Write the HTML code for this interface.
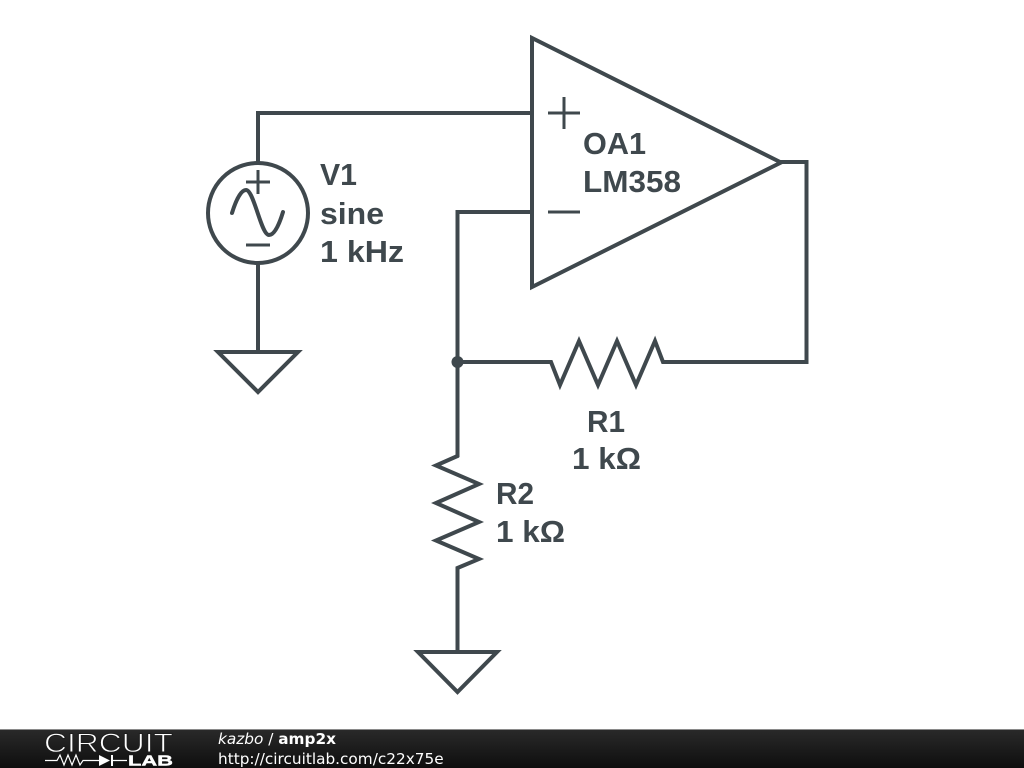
<!DOCTYPE html>
<html>
<head>
<meta charset="utf-8">
<style>
html,body{margin:0;padding:0;background:#fff;width:1024px;height:768px;overflow:hidden}
svg{display:block}
.l{font-family:"Liberation Sans",sans-serif;font-weight:bold;font-size:30.5px;fill:#3f484d}
.f{font-family:"DejaVu Sans",sans-serif;font-size:15.3px;fill:#fff}
</style>
</head>
<body>
<svg width="1024" height="768" viewBox="0 0 1024 768" xmlns="http://www.w3.org/2000/svg">
<defs>
<linearGradient id="g" x1="0" y1="0" x2="0" y2="1">
<stop offset="0" stop-color="#2a2a2a"/>
<stop offset="0.5" stop-color="#1c1c1c"/>
<stop offset="1" stop-color="#0e0e0e"/>
</linearGradient>
</defs>
<g fill="none" stroke="#3f484d" stroke-width="4" stroke-linejoin="miter" stroke-linecap="round">
<path d="M532 38 L532 287 L781 162.500 Z"/>
<path d="M258 163 V113 H532"/>
<path d="M532 212 H457.500 V456"/>
<path d="M781 162 H806.500 V362 H663 L655 341 L636 385 L617 341 L598 385 L579 341 L560 385 L551 362 H457.500"/>
<path d="M457.500 456 L436 465.500 L479 484 L436 503 L479 522 L436 540.500 L479 559 L457.500 568 V652"/>
<circle cx="258" cy="213" r="50"/>
<path d="M258 263 V352"/>
<path d="M218 352 H298 L258 392 Z"/>
<path d="M418 652 H497 L457.500 692 Z"/>
<path d="M232 213 C236 200 241 190 246 190 C254 190 261 235 269 235 C275 235 280 222 283 212"/>
</g>
<g fill="none" stroke="#3f484d" stroke-width="3">
<path d="M548 113 H580 M564 97 V129 M548 212 H580"/>
<path d="M246 182 H270 M258 170 V194 M246 245 H270"/>
</g>
<circle cx="457.500" cy="362" r="6" fill="#3f484d"/>
<text class="l" x="320" y="185" textLength="37" lengthAdjust="spacingAndGlyphs">V1</text>
<text class="l" x="320" y="224" textLength="64" lengthAdjust="spacingAndGlyphs">sine</text>
<text class="l" x="320" y="262" textLength="84" lengthAdjust="spacingAndGlyphs">1 kHz</text>
<text class="l" x="583" y="154" textLength="63" lengthAdjust="spacingAndGlyphs">OA1</text>
<text class="l" x="583" y="192" textLength="98" lengthAdjust="spacingAndGlyphs">LM358</text>
<text class="l" x="587" y="432" textLength="38" lengthAdjust="spacingAndGlyphs">R1</text>
<text class="l" x="572" y="469" textLength="69" lengthAdjust="spacingAndGlyphs">1 kΩ</text>
<text class="l" x="496" y="504" textLength="38" lengthAdjust="spacingAndGlyphs">R2</text>
<text class="l" x="496" y="542" textLength="69" lengthAdjust="spacingAndGlyphs">1 kΩ</text>
<rect x="0" y="729" width="1024" height="39" fill="url(#g)"/>
<rect x="0" y="729" width="1024" height="1" fill="#8a8a8a"/>
<text x="44" y="752" font-family="'Liberation Sans',sans-serif" font-size="26.5" fill="#fff" stroke="#1e1e1e" stroke-width="0.9" textLength="129" lengthAdjust="spacingAndGlyphs">CIRCUIT</text>
<path d="M45 760.500 H57 L60 755 L64 765 L68 755 L72 765 L76 755 L80 765 L83 760.500 H99 M113 760.500 H127" fill="none" stroke="#fff" stroke-width="1.200"/>
<path d="M99 755 L110 760.500 L99 766 Z M111 755 H113 V766 H111 Z" fill="#fff"/>
<text x="128" y="765.500" font-family="'Liberation Sans',sans-serif" font-size="14.500" font-weight="bold" fill="#fff" stroke="#fff" stroke-width="0.4" textLength="45" lengthAdjust="spacingAndGlyphs">LAB</text>
<text class="f" x="218" y="744"><tspan font-style="italic">kazbo</tspan> / <tspan font-weight="bold">amp2x</tspan></text>
<text class="f" x="218" y="764">http://circuitlab.com/c22x75e</text>
</svg>
</body>
</html>
